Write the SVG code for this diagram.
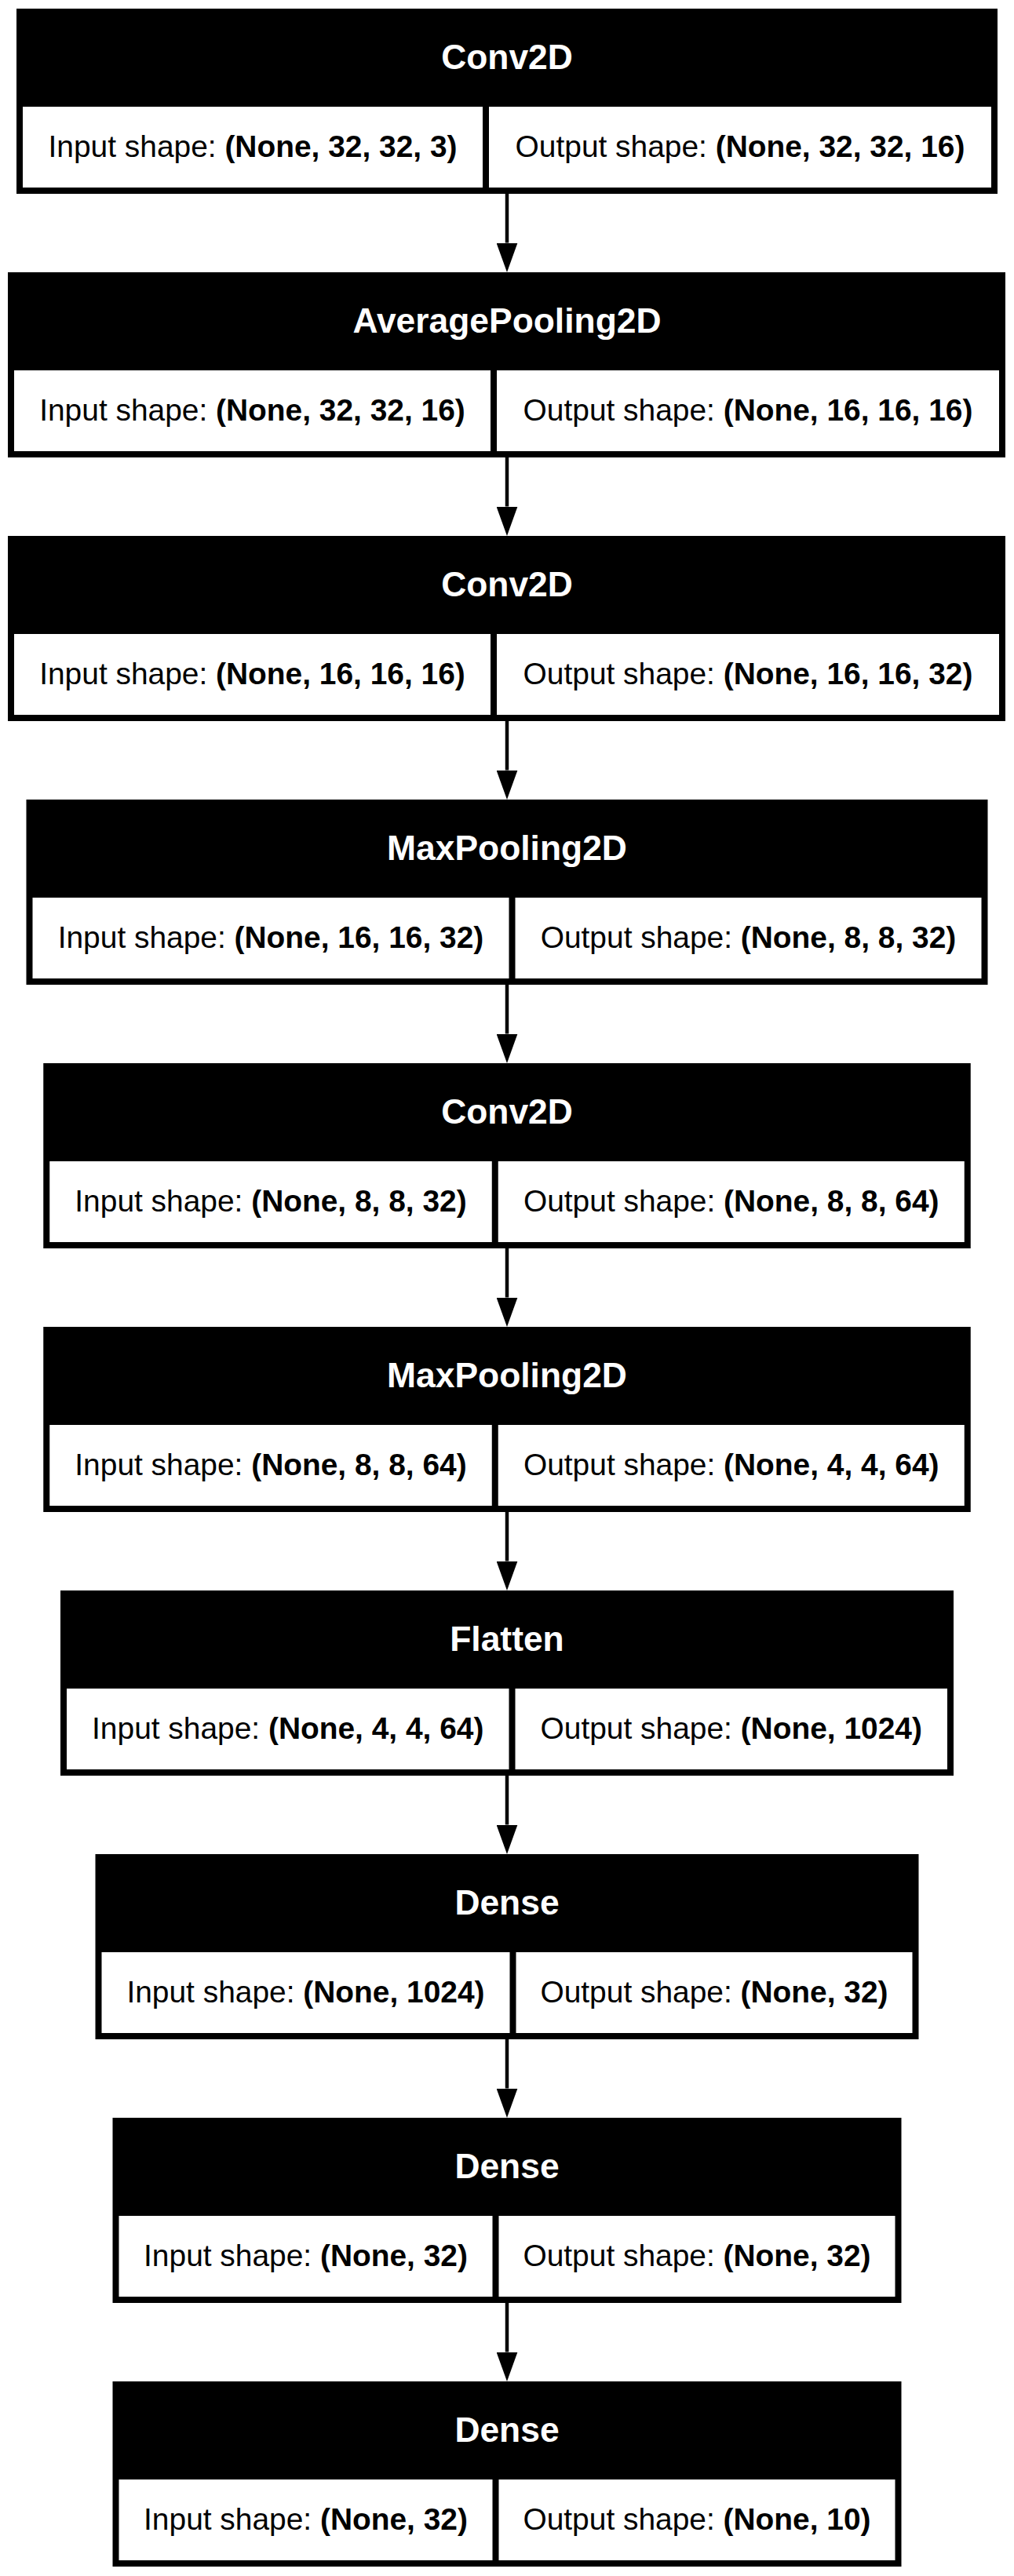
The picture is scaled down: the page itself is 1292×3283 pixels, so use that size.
<svg xmlns="http://www.w3.org/2000/svg" width="1292" height="3283" viewBox="0 0 1292 3283">
  <style>
    .frame { fill: #000000; }
    .cell { fill: #ffffff; }
    .title { font-family: "Liberation Sans", Arial, Helvetica, sans-serif; font-weight: bold; font-size: 44.4px; fill: #ffffff; text-anchor: middle; }
    .shape { font-family: "Liberation Sans", Arial, Helvetica, sans-serif; font-size: 38.9px; fill: #000000; text-anchor: middle; }
    .shape .b { font-weight: bold; }
    .edge { stroke: #000000; stroke-width: 4.5; fill: none; }
  </style>
  <defs>
    <marker id="arrowhead" markerUnits="userSpaceOnUse" viewBox="0 0 37.5 27" refX="0" refY="13.5" markerWidth="37.5" markerHeight="27" orient="auto">
      <path d="M0,0 L37.5,13.5 L0,27 Z" fill="#000000"/>
    </marker>
  </defs>

  <!-- connectors between consecutive layers -->
  <g id="edges">
    <line class="edge" x1="646" y1="247" x2="646" y2="309.5" marker-end="url(#arrowhead)"/>
    <line class="edge" x1="646" y1="583" x2="646" y2="645.5" marker-end="url(#arrowhead)"/>
    <line class="edge" x1="646" y1="919" x2="646" y2="981.5" marker-end="url(#arrowhead)"/>
    <line class="edge" x1="646" y1="1255" x2="646" y2="1317.5" marker-end="url(#arrowhead)"/>
    <line class="edge" x1="646" y1="1591" x2="646" y2="1653.5" marker-end="url(#arrowhead)"/>
    <line class="edge" x1="646" y1="1927" x2="646" y2="1989.5" marker-end="url(#arrowhead)"/>
    <line class="edge" x1="646" y1="2263" x2="646" y2="2325.5" marker-end="url(#arrowhead)"/>
    <line class="edge" x1="646" y1="2599" x2="646" y2="2661.5" marker-end="url(#arrowhead)"/>
    <line class="edge" x1="646" y1="2935" x2="646" y2="2997.5" marker-end="url(#arrowhead)"/>
  </g>

  <g id="conv2d_1">
    <rect class="frame" x="21" y="11" width="1250" height="236"/>
    <rect class="cell" x="29" y="136" width="586" height="103"/>
    <rect class="cell" x="623" y="136" width="640" height="103"/>
    <text class="title" x="646" y="88">Conv2D</text>
    <text class="shape" x="322" y="200">Input shape: <tspan class="b">(None, 32, 32, 3)</tspan></text>
    <text class="shape" x="943" y="200">Output shape: <tspan class="b">(None, 32, 32, 16)</tspan></text>
  </g>

  <g id="average_pooling2d">
    <rect class="frame" x="10" y="347" width="1271" height="236"/>
    <rect class="cell" x="18" y="472" width="607" height="103"/>
    <rect class="cell" x="633" y="472" width="640" height="103"/>
    <text class="title" x="646" y="424">AveragePooling2D</text>
    <text class="shape" x="321.5" y="536">Input shape: <tspan class="b">(None, 32, 32, 16)</tspan></text>
    <text class="shape" x="953" y="536">Output shape: <tspan class="b">(None, 16, 16, 16)</tspan></text>
  </g>

  <g id="conv2d_2">
    <rect class="frame" x="10" y="683" width="1271" height="236"/>
    <rect class="cell" x="18" y="808" width="607" height="103"/>
    <rect class="cell" x="633" y="808" width="640" height="103"/>
    <text class="title" x="646" y="760">Conv2D</text>
    <text class="shape" x="321.5" y="872">Input shape: <tspan class="b">(None, 16, 16, 16)</tspan></text>
    <text class="shape" x="953" y="872">Output shape: <tspan class="b">(None, 16, 16, 32)</tspan></text>
  </g>

  <g id="max_pooling2d_1">
    <rect class="frame" x="33.5" y="1019" width="1225" height="236"/>
    <rect class="cell" x="41.5" y="1144" width="607" height="103"/>
    <rect class="cell" x="656.5" y="1144" width="594" height="103"/>
    <text class="title" x="646" y="1096">MaxPooling2D</text>
    <text class="shape" x="345" y="1208">Input shape: <tspan class="b">(None, 16, 16, 32)</tspan></text>
    <text class="shape" x="953.5" y="1208">Output shape: <tspan class="b">(None, 8, 8, 32)</tspan></text>
  </g>

  <g id="conv2d_3">
    <rect class="frame" x="55.25" y="1355" width="1181.5" height="236"/>
    <rect class="cell" x="63.25" y="1480" width="563.5" height="103"/>
    <rect class="cell" x="634.75" y="1480" width="594" height="103"/>
    <text class="title" x="646" y="1432">Conv2D</text>
    <text class="shape" x="345" y="1544">Input shape: <tspan class="b">(None, 8, 8, 32)</tspan></text>
    <text class="shape" x="931.75" y="1544">Output shape: <tspan class="b">(None, 8, 8, 64)</tspan></text>
  </g>

  <g id="max_pooling2d_2">
    <rect class="frame" x="55.25" y="1691" width="1181.5" height="236"/>
    <rect class="cell" x="63.25" y="1816" width="563.5" height="103"/>
    <rect class="cell" x="634.75" y="1816" width="594" height="103"/>
    <text class="title" x="646" y="1768">MaxPooling2D</text>
    <text class="shape" x="345" y="1880">Input shape: <tspan class="b">(None, 8, 8, 64)</tspan></text>
    <text class="shape" x="931.75" y="1880">Output shape: <tspan class="b">(None, 4, 4, 64)</tspan></text>
  </g>

  <g id="flatten">
    <rect class="frame" x="77" y="2027" width="1138" height="236"/>
    <rect class="cell" x="85" y="2152" width="563.5" height="103"/>
    <rect class="cell" x="656.5" y="2152" width="550.5" height="103"/>
    <text class="title" x="646" y="2104">Flatten</text>
    <text class="shape" x="366.75" y="2216">Input shape: <tspan class="b">(None, 4, 4, 64)</tspan></text>
    <text class="shape" x="931.75" y="2216">Output shape: <tspan class="b">(None, 1024)</tspan></text>
  </g>

  <g id="dense_1">
    <rect class="frame" x="121.5" y="2363" width="1049" height="236"/>
    <rect class="cell" x="129.5" y="2488" width="520" height="103"/>
    <rect class="cell" x="657.5" y="2488" width="505" height="103"/>
    <text class="title" x="646" y="2440">Dense</text>
    <text class="shape" x="389.5" y="2552">Input shape: <tspan class="b">(None, 1024)</tspan></text>
    <text class="shape" x="910" y="2552">Output shape: <tspan class="b">(None, 32)</tspan></text>
  </g>

  <g id="dense_2">
    <rect class="frame" x="143.5" y="2699" width="1005" height="236"/>
    <rect class="cell" x="151.5" y="2824" width="476" height="103"/>
    <rect class="cell" x="635.5" y="2824" width="505" height="103"/>
    <text class="title" x="646" y="2776">Dense</text>
    <text class="shape" x="389.5" y="2888">Input shape: <tspan class="b">(None, 32)</tspan></text>
    <text class="shape" x="888" y="2888">Output shape: <tspan class="b">(None, 32)</tspan></text>
  </g>

  <g id="dense_3">
    <rect class="frame" x="143.5" y="3035" width="1005" height="236"/>
    <rect class="cell" x="151.5" y="3160" width="476" height="103"/>
    <rect class="cell" x="635.5" y="3160" width="505" height="103"/>
    <text class="title" x="646" y="3112">Dense</text>
    <text class="shape" x="389.5" y="3224">Input shape: <tspan class="b">(None, 32)</tspan></text>
    <text class="shape" x="888" y="3224">Output shape: <tspan class="b">(None, 10)</tspan></text>
  </g>
</svg>
